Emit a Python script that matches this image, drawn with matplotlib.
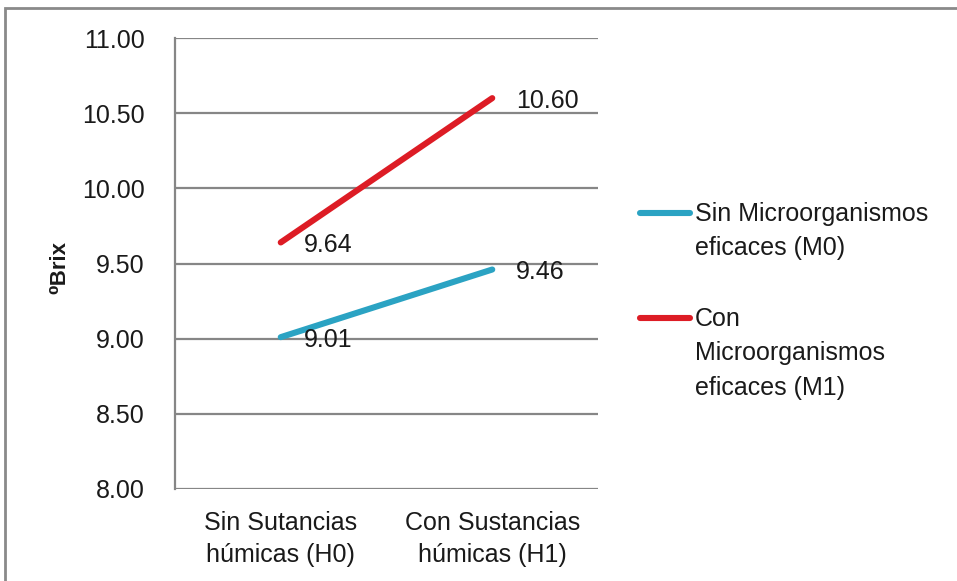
import matplotlib
matplotlib.use("Agg")
import matplotlib.pyplot as plt
from matplotlib.lines import Line2D
from matplotlib.patches import Rectangle

categories = ["Sin Sutancias\nhúmicas (H0)", "Con Sustancias\nhúmicas (H1)"]
series_names = ["Sin Microorganismos\neficaces (M0)", "Con\nMicroorganismos\neficaces (M1)"]
m0_values = [9.01, 9.46]
m1_values = [9.64, 10.60]
yticks = [8.00, 8.50, 9.00, 9.50, 10.00, 10.50, 11.00]

FONT = ["Liberation Sans Narrow", "Liberation Sans", "DejaVu Sans"]
plt.rcParams["font.family"] = FONT
colors = ["#2BA3C3", "#DD1C25"]
grid_c = "#868686"
txt_c = "#1a1a1a"
FS = 18

fig = plt.figure(figsize=(9.57, 5.81), dpi=100)
fig.patch.set_facecolor("white")
# outer frame
fig.add_artist(Rectangle((5/957, -0.05), 1.1, 1 - 8/581 + 0.05, transform=fig.transFigure,
                         fill=False, edgecolor="#8a8a8a", linewidth=2))

ax = fig.add_axes([175/957, 1 - 489/581, 423/957, 451/581])
x = [0, 1]
for vals, c in zip([m0_values, m1_values], colors):
    ax.plot(x, vals, color=c, linewidth=4.4, solid_capstyle="round", zorder=3)
    for xi, v in zip(x, vals):
        ax.annotate(f"{v:.2f}", (xi, v), xytext=(17, -2), textcoords="offset points",
                    ha="left", va="center", fontsize=FS, color=txt_c, zorder=4)

ax.set_xlim(-0.5, 1.5)
ax.set_ylim(8, 11)
ax.set_yticks(yticks)
ax.set_yticklabels([f"{t:.2f}" for t in yticks])
ax.set_xticks(x)
ax.set_xticklabels(categories, linespacing=1.4)
ax.tick_params(axis="both", length=0, labelsize=FS, colors=txt_c)
ax.tick_params(axis="y", pad=22)
ax.tick_params(axis="x", pad=16)
ax.yaxis.grid(True, color=grid_c, linewidth=1.6)
ax.set_axisbelow(True)
for s in ["top", "right", "bottom"]:
    ax.spines[s].set_visible(False)
ax.spines["left"].set_color(grid_c)
ax.spines["left"].set_linewidth(1.6)

fig.text(60/957, 1 - 267/581, "⁰Brix", rotation=90, ha="center", va="center",
         fontsize=16, fontweight="bold", color=txt_c)

# legend (manual, handle aligned with first text line)
leg_y = [213, 318]
for name, c, yy in zip(series_names, colors, leg_y):
    fig.add_artist(Line2D([640/957, 690/957], [1 - yy/581, 1 - yy/581], transform=fig.transFigure,
                          color=c, linewidth=4.4, solid_capstyle="round"))
    fig.text(695/957, 1 - (yy - 11)/581, name, ha="left", va="top", fontsize=FS,
             linespacing=1.55, color=txt_c)

fig.savefig("out.png", dpi=100, facecolor="white")
